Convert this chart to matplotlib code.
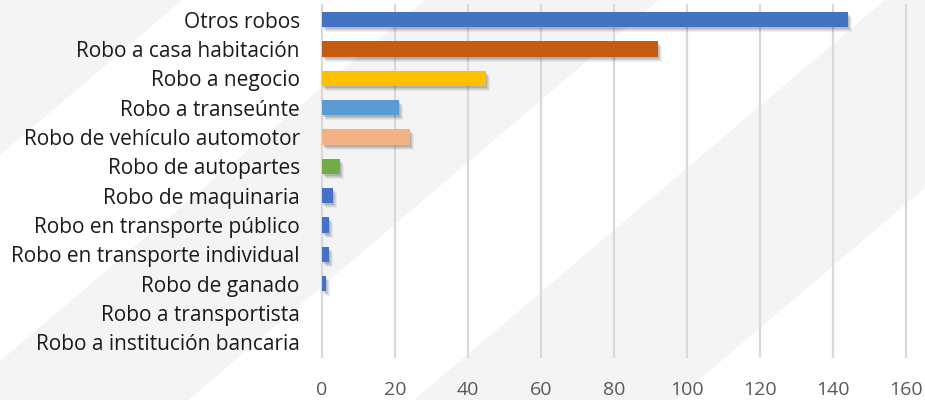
import matplotlib
matplotlib.use('Agg')
import matplotlib.pyplot as plt
from matplotlib.patches import Polygon
import matplotlib.transforms as mtransforms

plt.rcParams['font.family'] = ['Open Sans', 'DejaVu Sans']

categories = [
    "Otros robos",
    "Robo a casa habitación",
    "Robo a negocio",
    "Robo a transeúnte",
    "Robo de vehículo automotor",
    "Robo de autopartes",
    "Robo de maquinaria",
    "Robo en transporte público",
    "Robo en transporte individual",
    "Robo de ganado",
    "Robo a transportista",
    "Robo a institución bancaria",
]
values = [144, 92, 45, 21, 24, 5, 3, 2, 2, 1, 0, 0]
bar_colors = ["#4472C4", "#C55A11", "#FFC000", "#5B9BD5", "#F4B183", "#70AD47",
              "#4472C4", "#4472C4", "#4472C4", "#4472C4", "#4472C4", "#4472C4"]
x_ticks = [0, 20, 40, 60, 80, 100, 120, 140, 160]

W, H = 925, 400
fig = plt.figure(figsize=(W / 100, H / 100), dpi=100)
fig.patch.set_facecolor('white')

# background layer with diagonal stripes (pixel coords, y = c - 0.85 x)
bg = fig.add_axes([0, 0, 1, 1], zorder=0)
bg.set_xlim(0, W)
bg.set_ylim(H, 0)
bg.axis('off')
for c1, c2 in [(-600, 155), (361, 560), (752, 974)]:
    pts = [(-100, c1 + 85), (1100, c1 - 935), (1100, c2 - 935), (-100, c2 + 85)]
    bg.add_patch(Polygon(pts, closed=True, facecolor='#f4f4f4', edgecolor='none'))

ax = fig.add_axes([322 / W, 43 / H, 584 / W, 352 / H], zorder=1)
ax.patch.set_alpha(0)
pos = list(range(len(categories)))

# soft shadows
for dx, dy, a in [(1, -2, 0.10), (2, -3, 0.08), (3, -4, 0.07), (4, -5, 0.05)]:
    tr = mtransforms.offset_copy(ax.transData, fig=fig, x=dx, y=dy, units='dots')
    ax.barh(pos, values, height=0.52, color='black', alpha=a, transform=tr,
            zorder=2, linewidth=0)

ax.barh(pos, values, height=0.52, color=bar_colors, zorder=3, linewidth=0)

ax.set_xlim(0, 160)
ax.set_ylim(len(categories) - 0.5, -0.5)
ax.set_xticks(x_ticks)
ax.set_xticklabels([str(t) for t in x_ticks])
ax.set_yticks(pos)
ax.set_yticklabels(categories)
ax.grid(axis='x', color='#d9d9d9', linewidth=1.6, zorder=1)
ax.set_axisbelow(True)
for gl in ax.get_xgridlines():
    gl.set_clip_on(False)
for s in ax.spines.values():
    s.set_visible(False)
ax.tick_params(axis='both', length=0)
ax.tick_params(axis='x', pad=17, labelsize=14, labelcolor='#595959')
ax.tick_params(axis='y', pad=16, labelsize=15, labelcolor='#1a1a1a')

fig.savefig('out.png', dpi=100)
